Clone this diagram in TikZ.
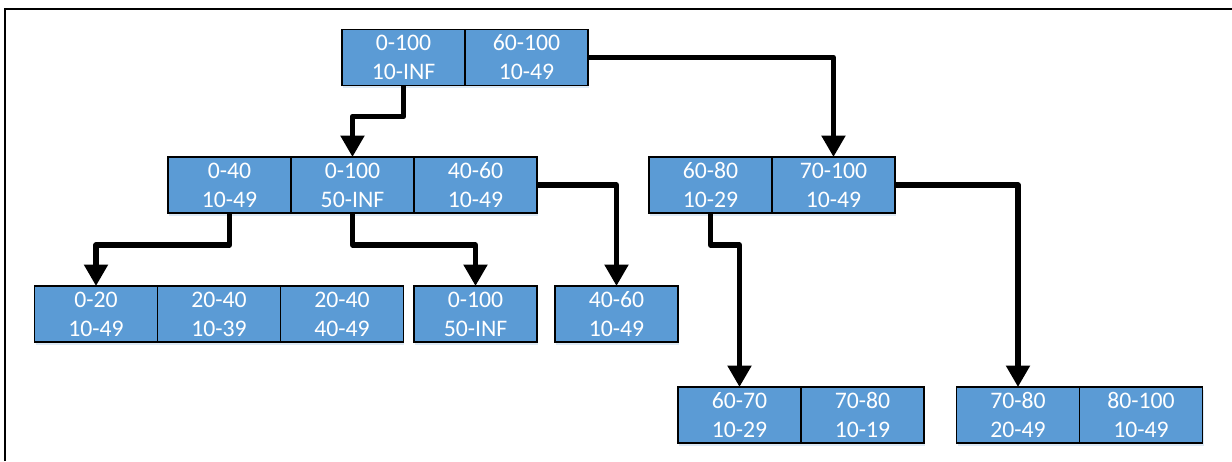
\documentclass[tikz,border=0pt]{standalone}
\usepackage{fontspec}
\setmainfont{Carlito}
\usepackage{tikz}
\usetikzlibrary{arrows.meta}
\usetikzlibrary{positioning}
\usetikzlibrary{shadows}
\definecolor{cellblue}{HTML}{5B9BD5}
\tikzset{cell/.style={draw=black,line width=0.8pt,fill=cellblue,text=white,
                      align=center,inner sep=0pt,outer sep=0pt,
                      minimum width=2.46cm,minimum height=1.12cm,
                      font=\fontsize{13.5}{16.5}\selectfont,
                      drop shadow={fill=cellblue!60!white,opacity=0.35,
                                   shadow xshift=0.6pt,shadow yshift=-1.6pt}}}
\begin{document}
\begin{tikzpicture}[x=0.02cm,y=-0.02cm]
    \tikzstyle{link}=[draw=black,line width=3pt,line join=round,
                      -{Triangle[width=0.46cm,length=0.43cm]}]
    \useasboundingbox (0,0) rectangle (1232,461);

    % outer frame
    \draw[line width=1.4pt] (5,461) -- (5,9) -- (1232,9);

    % Draw the root
    \node[cell] (T-1) at (403.5,57.5) {0-100\\10-INF};
    \node[cell,right=0pt of T-1] (T-2) {60-100\\10-49};

    % Draw the second level
    \node[cell] (A-1) at (229.5,185) {0-40\\10-49};
    \node[cell,right=0pt of A-1] (A-2) {0-100\\50-INF};
    \node[cell,right=0pt of A-2] (A-3) {40-60\\10-49};

    \node[cell] (B-1) at (710.5,185) {60-80\\10-29};
    \node[cell,right=0pt of B-1] (B-2) {70-100\\10-49};

    % Draw the third level
    \node[cell] (C-1) at (96,314) {0-20\\10-49};
    \node[cell,right=0pt of C-1] (C-2) {20-40\\10-39};
    \node[cell,right=0pt of C-2] (C-3) {20-40\\40-49};
    \node[cell] (D-1) at (475.5,314) {0-100\\50-INF};
    \node[cell] (E-1) at (616.5,314) {40-60\\10-49};

    % Draw the fourth level
    \node[cell] (F-1) at (739.5,415) {60-70\\10-29};
    \node[cell,right=0pt of F-1] (F-2) {70-80\\10-19};
    \node[cell] (G-1) at (1018,415) {70-80\\20-49};
    \node[cell,right=0pt of G-1] (G-2) {80-100\\10-49};

    % Connect parents with children
    \draw[link] (T-1.south) -- ++(0,31) -| (A-2.north);
    \draw[link] (T-2.east) -| (B-2.north);
    \draw[link] (A-1.south) -- ++(0,32) -| (C-1.north);
    \draw[link] (A-2.south) -- ++(0,32) -| (D-1.north);
    \draw[link] (A-3.east) -| (E-1.north);
    \draw[link] (B-1.south) -- ++(0,32) -| (F-1.north);
    \draw[link] (B-2.east) -| (G-1.north);
\end{tikzpicture}
\end{document}
